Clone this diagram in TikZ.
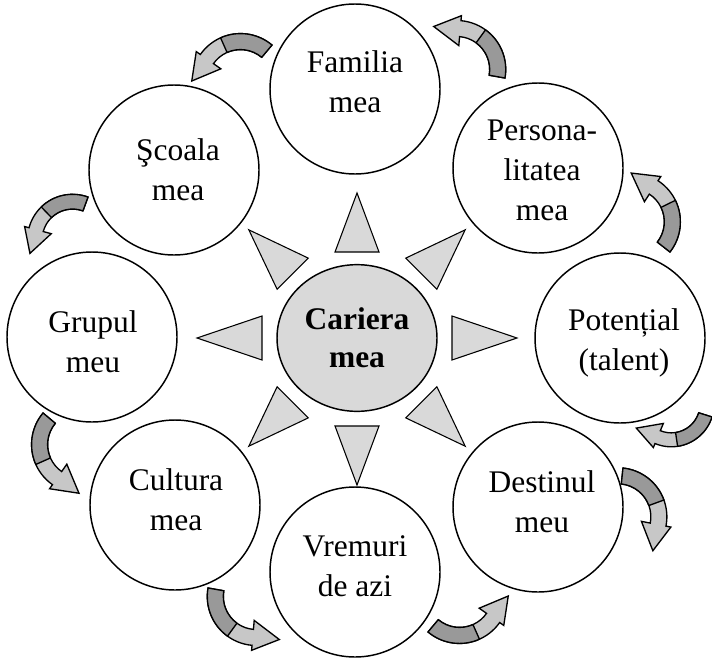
\documentclass[tikz,border=0pt]{standalone}
\usepackage{fontspec}
\setmainfont{Liberation Serif}
\usepackage{tikz}
\usetikzlibrary{shapes.geometric,calc}

\definecolor{ribbondark}{gray}{0.6}
\definecolor{ribbonlight}{gray}{0.78}
\definecolor{spikefill}{gray}{0.85}

\tikzset{
  bubble/.style={circle, draw, line width=1.1pt, minimum size=127.5pt, inner sep=0pt},
  caption/.style={align=center, inner sep=0pt, font=\fontsize{23.6}{30}\selectfont},
  hub/.style={ellipse, draw, line width=1.1pt, fill=spikefill, minimum width=120pt,
    minimum height=110pt, inner sep=0pt, align=center,
    font=\fontsize{23.6}{28.5}\selectfont\bfseries},
  spike/.style={draw, line width=0.8pt, fill=spikefill, line join=miter},
  arrowback/.style={draw, line width=1pt, fill=ribbondark, line join=round},
  arrowfront/.style={draw, line width=1pt, fill=ribbonlight, line join=miter},
  pics/curvarrow/.style={code={
    \begin{scope}[shift={(48.3,8.5)}]
    % whole ribbon with its head
    \draw[arrowfront] (190:49) arc[start angle=190, end angle=95, radius=49]
      -- (95:54) -- (23,43) -- (95:24) -- (95:33)
      arc[start angle=95, end angle=190, radius=33] -- cycle;
    % back of the ribbon (tail)
    \draw[arrowback] (190:49) arc[start angle=190, end angle=126, radius=49]
      -- (126:33) arc[start angle=126, end angle=190, radius=33] -- cycle;
    \end{scope}
  }},
}

\begin{document}
\begin{tikzpicture}[x=0.75pt, y=-0.75pt]
\useasboundingbox (0,0) rectangle (712,660);

% centre
\node[hub] (hub) at (357,338) {Cariera\\mea};

% the eight spikes round the centre
\foreach \ang/\near/\far in {0/95/160, 45/91/153, 90/88/147, 135/91/153,
    180/95/160, 225/91/153, 270/86/145, 315/91/153}
  \draw[spike] ($(hub.center)+(\ang:\far)$)
    -- ($(hub.center)+(\ang:\near)+(\ang+90:22)$)
    -- ($(hub.center)+(\ang:\near)+(\ang-90:22)$) -- cycle;

% circles
\node[bubble] (familia) at (355,89) {};
\node[bubble] (persona) at (538,168) {};
\node[bubble] (potential) at (620,338) {};
\node[bubble] (destin) at (538,507) {};
\node[bubble] (vremuri) at (355,572) {};
\node[bubble] (cultura) at (175,505) {};
\node[bubble] (grupul) at (92,337) {};
\node[bubble] (scoala) at (174,170) {};

% their texts
\node[caption] (familiatxt) at (355,82) {Familia\\mea};
\node[caption] (personatxt) at (542,170) {Persona-\\litatea\\mea};
\node[caption] (potentialtxt) at (624,343) {Potențial\\(talent)};
\node[caption] (destintxt) at (542,502) {Destinul\\meu};
\node[caption] (vremuritxt) at (355,566) {Vremuri\\de azi};
\node[caption] (culturatxt) at (176,500) {Cultura\\mea};
\node[caption] (grupultxt) at (93,342) {Grupul\\meu};
\node[caption] (scoalatxt) at (178,170) {Şcoala\\mea};

% curved arrows between the circles
\coordinate (tailA) at (272,45);
\coordinate (tailB) at (505,78);
\coordinate (tailC) at (670,252);
\coordinate (tailD) at (712,417);
\coordinate (tailE) at (623,468);
\coordinate (tailF) at (428,632);
\coordinate (tailG) at (208,588);
\coordinate (tailH) at (43,413);
\coordinate (tailI) at (88,197);
\pic[rotate=-120] at (tailA) {curvarrow};
\pic[rotate=180] at (tailB) {curvarrow};
\pic[rotate=152] at (tailC) {curvarrow};
\pic[rotate=-27.5, xscale=-0.87, yscale=0.87] at (tailD) {curvarrow};
\pic[rotate=74, xscale=-1] at (tailE) {curvarrow};
\pic[rotate=60] at (tailF) {curvarrow};
\pic at (tailG) {curvarrow};
\pic[rotate=-30] at (tailH) {curvarrow};
\pic[rotate=-100, scale=0.92] at (tailI) {curvarrow};
\end{tikzpicture}
\end{document}
